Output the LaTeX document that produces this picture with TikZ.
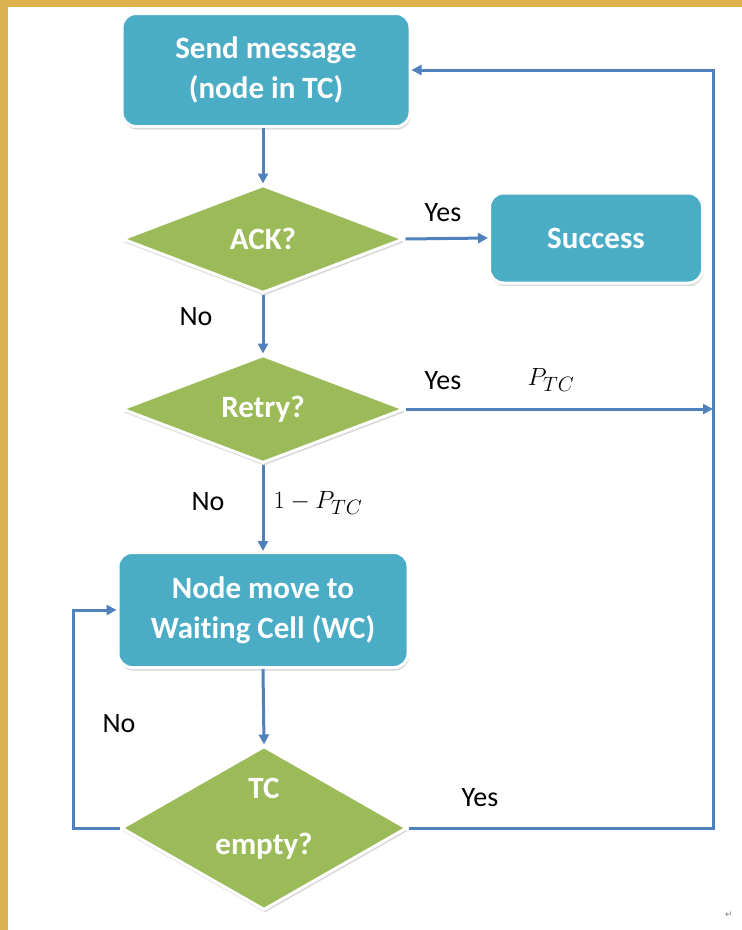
\documentclass[tikz,border=0pt]{standalone}
\usepackage{fontspec}
\setmainfont[Ligatures=NoCommon]{Carlito}
\newfontfamily\symfont{DejaVu Sans}
\usetikzlibrary{shapes.geometric,arrows.meta,shadows}
\definecolor{boxblue}{RGB}{75,172,198}
\definecolor{dgreen}{RGB}{155,187,89}
\definecolor{lineblue}{RGB}{79,129,189}
\definecolor{goldbg}{RGB}{219,178,78}
\begin{document}
\begin{tikzpicture}[x=1pt,y=-1pt,
  procbox/.style={rectangle, rounded corners=14pt, fill=boxblue, draw=white, line width=3pt,
    text=white, font=\fontsize{31}{40}\selectfont\bfseries, align=center, inner sep=0pt,
    drop shadow={shadow xshift=1pt, shadow yshift=-3pt, opacity=0.3}},
  decide/.style={diamond, aspect=2, fill=dgreen, draw=white, line width=3pt,
    text=white, font=\fontsize{31}{40}\selectfont\bfseries, align=center, inner sep=0pt,
    drop shadow={shadow xshift=1pt, shadow yshift=-3pt, opacity=0.3}},
  flow/.style={draw=lineblue, line width=3pt, -{Triangle[length=10pt,width=10pt]}},
  lbl/.style={font=\fontsize{28}{34}\selectfont, text=black, inner sep=0pt}
]
\useasboundingbox (0,0) rectangle (742,930);
\fill[goldbg] (0,0) rectangle (742,930);
\fill[white] (8,7) rectangle (742,930);

\node[procbox, minimum width=288pt, minimum height=113pt] (send) at (266,70) {Send message\\(node in TC)};
\node[decide, minimum width=282pt, minimum height=108pt] (ack) at (263,239) {ACK?};
\node[procbox, minimum width=213pt, minimum height=90pt] (succ) at (596,238) {Success};
\node[decide, minimum width=283pt, minimum height=108pt] (retry) at (263,409) {Retry?};
\node[procbox, minimum width=290pt, minimum height=115pt] (move) at (263,610) {Node move to\\Waiting Cell (WC)};
\node[decide, minimum width=286pt, minimum height=164pt] (empty) at (264,828) {};
\node[font=\fontsize{31}{40}\selectfont\bfseries, text=white, align=center] (emptytxt) at (264,819) {TC\\[16pt]empty?};

\coordinate (rj) at (713,409);
\coordinate (c1) at (713,828);
\coordinate (c2) at (713,70);
\coordinate (c3) at (73,828);
\coordinate (c4) at (73,610);

\draw[flow] (send.south -| ack.north) -- (ack.north);
\draw[flow] (ack.east) -- (succ.west);
\draw[flow] (ack.south) -- (retry.north);
\draw[flow] (retry.east) -- (rj);
\draw[flow] (retry.south) -- (move.north);
\draw[flow] (move.south) -- (empty.north);
\draw[flow] (empty.east) -- (c1) -- (c2) -- (send.east);
\draw[flow] (empty.west) -- (c3) -- (c4) -- (move.west);

\node[lbl] (l1) at (443,213) {Yes};
\node[lbl] (l2) at (196,317) {No};
\node[lbl] (l3) at (443,381) {Yes};
\node[lbl] (l4) at (551,380) {$P_{TC}$};
\node[lbl] (l5) at (208,502) {No};
\node[lbl] (l6) at (318,503) {$1-P_{TC}$};
\node[lbl] (l7) at (119,724) {No};
\node[lbl] (l8) at (480,798) {Yes};
\node[font=\symfont\fontsize{9}{10}\selectfont, text=gray] (ret) at (729,915) {↵};
\end{tikzpicture}
\end{document}
